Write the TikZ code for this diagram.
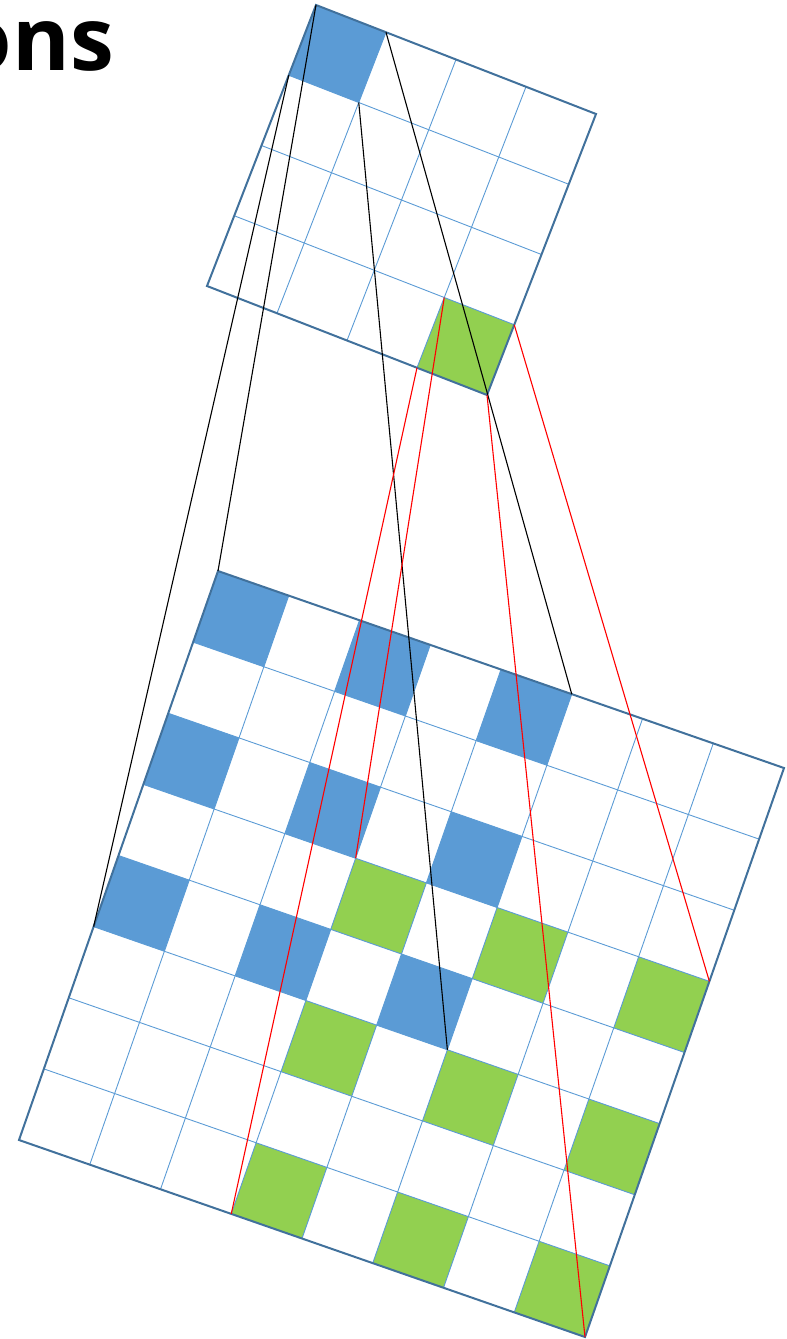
\documentclass[tikz,border=0pt]{standalone}
\usepackage{fontspec}
\newfontfamily\titlefont{Open Sans}
\definecolor{cellblue}{HTML}{5B9BD5}
\definecolor{cellgreen}{HTML}{92D050}
\definecolor{borderblue}{HTML}{41719C}
\begin{document}
\begin{tikzpicture}[x=1pt,y=-1pt,
  gridline/.style={draw=cellblue, line width=0.9pt},
  border/.style={draw=borderblue, line width=2pt, line join=miter},
  bluecell/.style={fill=cellblue},
  greencell/.style={fill=cellgreen},
  blackray/.style={draw=black, line width=1.1pt},
  redray/.style={draw=red, line width=1.1pt}]
\useasboundingbox (0,0) rectangle (787,1339);
\clip (0,0) rectangle (787,1339);

\node[anchor=base east, inner sep=0pt, font=\titlefont\bfseries\fontsize{88}{90}\selectfont] (title) at (114,70) {ons};

% top grid 4x4
\begin{scope}[shift={(316,5)}, x={(70pt,-27.25pt)}, y={(-27.25pt,-70.25pt)}]
  \fill[bluecell] (0,0) -- (1,0) -- (1,1) -- (0,1) -- cycle;
  \fill[greencell] (3,3) -- (4,3) -- (4,4) -- (3,4) -- cycle;
  \foreach \i in {1,2,3} {
    \draw[gridline] (\i,0) -- (\i,4);
    \draw[gridline] (0,\i) -- (4,\i);
  }
  \draw[border] (0,0) -- (4,0) -- (4,4) -- (0,4) -- cycle;
  \coordinate (t00) at (0,0);
  \coordinate (t10) at (1,0);
  \coordinate (t01) at (0,1);
  \coordinate (t11) at (1,1);
  \coordinate (t33) at (3,3);
  \coordinate (t43) at (4,3);
  \coordinate (t34) at (3,4);
  \coordinate (t44) at (4,4);
\end{scope}

% bottom grid 8x8
\begin{scope}[shift={(218,571)}, x={(70.75pt,-24.625pt)}, y={(-24.875pt,-71.125pt)}]
  \foreach \c in {0,2,4} \foreach \r in {0,2,4}
    \fill[bluecell] (\c,\r) -- ++(1,0) -- ++(0,1) -- ++(-1,0) -- cycle;
  \foreach \c in {3,5,7} \foreach \r in {3,5,7}
    \fill[greencell] (\c,\r) -- ++(1,0) -- ++(0,1) -- ++(-1,0) -- cycle;
  \foreach \i in {1,...,7} {
    \draw[gridline] (\i,0) -- (\i,8);
    \draw[gridline] (0,\i) -- (8,\i);
  }
  \draw[border] (0,0) -- (8,0) -- (8,8) -- (0,8) -- cycle;
  \coordinate (b00) at (0,0);
  \coordinate (b50) at (5,0);
  \coordinate (b05) at (0,5);
  \coordinate (b55) at (5,5);
  \coordinate (b33) at (3,3);
  \coordinate (b83) at (8,3);
  \coordinate (b38) at (3,8);
  \coordinate (b88) at (8,8);
\end{scope}

% receptive field rays
\draw[blackray] (t00) -- (b00);
\draw[blackray] (t01) -- (b05);
\draw[blackray] (t10) -- (b50);
\draw[blackray] (t11) -- (b55);
\draw[redray] (t33) -- (b33);
\draw[redray] (t34) -- (b38);
\draw[redray] (t43) -- (b83);
\draw[redray] (t44) -- (b88);
\end{tikzpicture}
\end{document}
